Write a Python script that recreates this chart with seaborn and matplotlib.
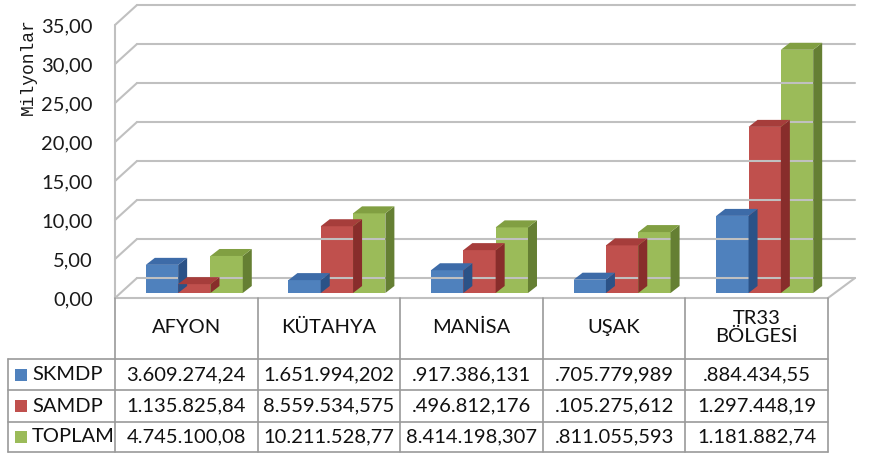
import numpy as np
import pandas as pd
import matplotlib
matplotlib.use("Agg")
import matplotlib.pyplot as plt
import seaborn as sns
from matplotlib import transforms
from matplotlib.patches import Polygon
from matplotlib.lines import Line2D

# --- veriler (milyon) ---
bolgeler = ["AFYON", "KÜTAHYA", "MANİSA", "UŞAK", "TR33\nBÖLGESİ"]
seriler = ["SKMDP", "SAMDP", "TOPLAM"]
skmdp = [3.609, 1.652, 2.917, 1.706, 9.884]
samdp = [1.136, 8.560, 5.497, 6.105, 21.297]
toplam = [4.745, 10.212, 8.414, 7.811, 31.182]

# tablo hücrelerinde görünen metin (kırpılmış haliyle)
skmdp_txt = ["3.609.274,24", "1.651.994,202", ".917.386,131", ".705.779,989", ".884.434,55"]
samdp_txt = ["1.135.825,84", "8.559.534,575", ".496.812,176", ".105.275,612", "1.297.448,19"]
toplam_txt = ["4.745.100,08", "10.211.528,77", "8.414.198,307", ".811.055,593", "1.181.882,74"]

y_ticks = [0, 5, 10, 15, 20, 25, 30, 35]

on_renk = ["#4F81BD", "#C0504D", "#9BBB59"]
ust_renk = ["#3D6BA8", "#A63D3B", "#819F42"]
yan_renk = ["#2B5287", "#882D2B", "#657F33"]

W, H = 869, 454
sns.set_theme(style="white")
plt.rcParams["font.family"] = ["Lato", "DejaVu Sans"]

df = pd.DataFrame({
    "bolge": bolgeler * 3,
    "seri": [s for s in seriler for _ in bolgeler],
    "deger": skmdp + samdp + toplam,
})

fig = plt.figure(figsize=(W / 100, H / 100), dpi=100)
fig.patch.set_facecolor("white")
ax = fig.add_axes([115 / W, 1 - 298 / H, (828 - 115) / W, (298 - 25) / H])
ax.set_facecolor("none")

sns.barplot(data=df, x="bolge", y="deger", hue="seri", palette=on_renk,
            width=0.68, saturation=1, legend=False, ax=ax, linewidth=0)
ax.set_xlim(-0.5, len(bolgeler) - 0.5)
ax.set_ylim(0, 35)
ax.set_xlabel("")
ax.set_ylabel("")
ax.set_xticks([])
ax.set_yticks(y_ticks)
ax.set_yticklabels([f"{v:.2f}".replace(".", ",") for v in y_ticks], fontsize=14.5, color="#1A1A1A")
ax.tick_params(axis="y", left=False, length=0, pad=16)
for s in ax.spines.values():
    s.set_visible(False)

ident = transforms.IdentityTransform()
GRID = "#C0C0C0"


def d(x, y):
    return ax.transData.transform((x, y))


def cizgi(xs, ys, color=GRID, lw=1.5, z=1):
    fig.add_artist(Line2D(xs, ys, transform=ident, color=color, lw=lw, zorder=z))


# arka duvar, sol duvar, taban
BX_L, BX_R, BY = 22, 27, 20
for v in y_ticks:
    x0, y0 = d(-0.5, v)
    x1, _ = d(len(bolgeler) - 0.5, v)
    cizgi([x0 + BX_L, x1 + BX_R], [y0 + BY, y0 + BY])
    cizgi([x0, x0 + BX_L], [y0, y0 + BY])
x0, y0 = d(-0.5, 0)
x1, _ = d(len(bolgeler) - 0.5, 0)
_, ytop = d(-0.5, 35)
cizgi([x0, x0], [y0, ytop])
cizgi([x0, x1], [y0, y0])
cizgi([x1, x1 + BX_R], [y0, y0 + BY])

# 3B çubuk yüzleri
FX, FY = 8, 5
DX, DY = 9, 7
bars = sorted(ax.patches, key=lambda p: p.get_x())
for i, p in enumerate(bars):
    k = i % 3
    p.set_transform(transforms.offset_copy(ax.transData, fig=fig, x=FX, y=FY, units="dots"))
    p.set_zorder(3 + i * 0.1)
    xl, yb = d(p.get_x(), 0)
    xr, yt = d(p.get_x() + p.get_width(), p.get_height())
    xl, xr, yb, yt = xl + FX, xr + FX, yb + FY, yt + FY
    yan = Polygon([(xr, yb), (xr + DX, yb + DY), (xr + DX, yt + DY), (xr, yt)],
                  closed=True, transform=ident, facecolor=yan_renk[k], lw=0,
                  zorder=3 + i * 0.1 + 0.05)
    ust = Polygon([(xl, yt), (xr, yt), (xr + DX, yt + DY), (xl + DX, yt + DY)],
                  closed=True, transform=ident, facecolor=ust_renk[k], lw=0,
                  zorder=3 + i * 0.1 + 0.05)
    fig.add_artist(yan)
    fig.add_artist(ust)

fig.text(28 / W, 1 - 67 / H, "Milyonlar", rotation=90, family="Liberation Mono",
         fontsize=13, ha="center", va="center", color="#1A1A1A")

# veri tablosu
TC = "#9A9A9A"
sinirlar = [d(i - 0.5, 0)[0] for i in range(len(bolgeler) + 1)]
satir_y = [H - 359, H - 390, H - 422, H - 452]
sol = 8
ust_y = H - 300
for xb in sinirlar:
    cizgi([xb, xb], [y0, satir_y[-1]], color=TC, lw=1.2, z=2)
for yy in satir_y:
    cizgi([sol, sinirlar[-1]], [yy, yy], color=TC, lw=1.2, z=2)
cizgi([sol, sol], [satir_y[0], satir_y[-1]], color=TC, lw=1.2, z=2)

for i, b in enumerate(bolgeler):
    xc = (sinirlar[i] + sinirlar[i + 1]) / 2
    fig.text(xc / W, ((ust_y + satir_y[0]) / 2 + 2) / H, b, ha="center", va="center",
             fontsize=14.5, linespacing=1.1, color="#111111")

tablo = [skmdp_txt, samdp_txt, toplam_txt]
for r, (ad, satir) in enumerate(zip(seriler, tablo)):
    yc = (satir_y[r] + satir_y[r + 1]) / 2
    fig.patches.append(plt.Rectangle((15 / W, (yc - 6) / H), 12 / W, 12 / H,
                                     transform=fig.transFigure, facecolor=on_renk[r], lw=0))
    fig.text(32 / W, yc / H, ad, ha="left", va="center", fontsize=14.5, color="#111111")
    for i, t in enumerate(satir):
        xc = (sinirlar[i] + sinirlar[i + 1]) / 2
        fig.text(xc / W, yc / H, t, ha="center", va="center", fontsize=14.5, color="#111111")

fig.savefig("out.png", dpi=100)
